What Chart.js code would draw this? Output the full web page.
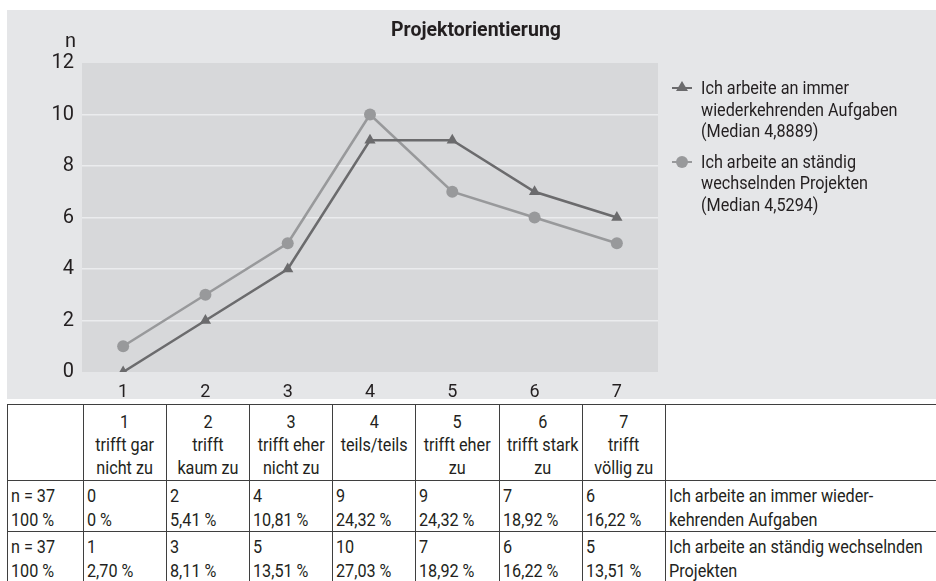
<!DOCTYPE html>
<html>
<head>
<meta charset="utf-8">
<script src="https://cdn.jsdelivr.net/npm/chart.js@4.4.1/dist/chart.umd.min.js"></script>
<style>
  html, body { margin: 0; padding: 0; background: #ffffff; }
  body { width: 936px; height: 581px; position: relative; overflow: hidden;
         font-family: "Roboto", "Liberation Sans", sans-serif; color: #231f20; }
  #panel { position: absolute; left: 7px; top: 10px; width: 929px; height: 389px; background: #e5e6e8; }
  #wrap { position: absolute; left: 0; top: 0; width: 929px; height: 389px; }
  #title { position: absolute; left: 0; width: 952px; top: 18px; text-align: center; font-weight: bold; font-size: 19.5px; }
  #nlabel { position: absolute; left: 58px; top: 18px; font-size: 20px; }
  #legend { position: absolute; left: 665px; top: 67px; font-size: 18px; line-height: 21.5px; }
  .li { position: relative; padding-left: 29px; margin-bottom: 9px; }
  .li .txt { display: inline-block; transform: scaleX(0.9); transform-origin: left center; white-space: nowrap; }
  .sym { position: absolute; left: 0; top: 10px; width: 20px; height: 2px; }
  .tri { position: absolute; left: 4px; top: -6px; width: 0; height: 0;
         border-left: 6px solid transparent; border-right: 6px solid transparent; border-bottom: 10px solid #6b6b6d; }
  .dot { position: absolute; left: 4px; top: -5px; width: 12px; height: 12px; border-radius: 50%; background: #98999b; }
  table { position: absolute; left: 7px; top: 404px; width: 929px; border-collapse: collapse; font-size: 18px; table-layout: fixed; }
  td { border: 1.3px solid #3f3f3f; padding: 0 3px; vertical-align: top; white-space: nowrap; overflow: hidden; }
  td .s { display: inline-block; transform: scaleX(0.9); white-space: nowrap; }
  tr.h { height: 76px; }
  tr.h td { text-align: center; padding-top: 5px; line-height: 23px; }
  tr.h td .s { transform-origin: center top; }
  tr.d { height: 48px; }
  tr.d td { line-height: 23.5px; padding-top: 3px; }
  tr.d td .s { transform-origin: left top; }
  tr td:last-child { border-right: none; }
</style>
</head>
<body>
<div id="panel">
  <div id="wrap"><canvas id="c" width="929" height="389"></canvas></div>
  <div id="nlabel">n</div>
  <div id="legend"></div>
</div>
<div id="title">Projektorientierung</div>
<table id="tbl"></table>
<script>
const categories = ["1", "2", "3", "4", "5", "6", "7"];
const categoryLabels = [["trifft gar", "nicht zu"], ["trifft", "kaum zu"], ["trifft eher", "nicht zu"], ["teils/teils"], ["trifft eher", "zu"], ["trifft stark", "zu"], ["trifft", "völlig zu"]];
const seriesNames = ["Ich arbeite an immer wiederkehrenden Aufgaben", "Ich arbeite an ständig wechselnden Projekten"];
const legendLines = [["Ich arbeite an immer", "wiederkehrenden Aufgaben", "(Median 4,8889)"], ["Ich arbeite an ständig", "wechselnden Projekten", "(Median 4,5294)"]];
const tableRowNames = [["Ich arbeite an immer wieder-", "kehrenden Aufgaben"], ["Ich arbeite an ständig wechselnden", "Projekten"]];
const recurringTasks = [0, 2, 4, 9, 9, 7, 6];
const changingProjects = [1, 3, 5, 10, 7, 6, 5];
const recurringPct = ["0 %", "5,41 %", "10,81 %", "24,32 %", "24,32 %", "18,92 %", "16,22 %"];
const changingPct = ["2,70 %", "8,11 %", "13,51 %", "27,03 %", "18,92 %", "16,22 %", "13,51 %"];
const totalN = "n = 37";
const totalPct = "100 %";
const yTicks = [0, 2, 4, 6, 8, 10, 12];

const colDark = "#6b6b6d";
const colLight = "#98999b";

// legend (HTML)
const lg = document.getElementById("legend");
legendLines.forEach((lines, i) => {
  const d = document.createElement("div");
  d.className = "li";
  const s = document.createElement("div");
  s.className = "sym";
  s.style.background = i === 0 ? colDark : colLight;
  const m = document.createElement("div");
  m.className = i === 0 ? "tri" : "dot";
  s.appendChild(m);
  d.appendChild(s);
  d.insertAdjacentHTML("beforeend", `<span class="txt">${lines.join("<br>")}</span>`);
  lg.appendChild(d);
});

// table
const tbl = document.getElementById("tbl");
const widths = [76, 83, 83, 83, 83, 84, 83, 83, 271];
const sp = t => `<span class="s">${t}</span>`;
let html = "<colgroup>" + widths.map(w => `<col style="width:${w}px">`).join("") + "</colgroup>";
html += "<tr class='h'><td></td>" + categories.map((c, i) => `<td>${sp([c].concat(categoryLabels[i]).join("<br>"))}</td>`).join("") + "<td></td></tr>";
const rows = [[recurringTasks, recurringPct], [changingProjects, changingPct]];
rows.forEach((r, k) => {
  html += `<tr class='d'><td>${sp(totalN + "<br>" + totalPct)}</td>` + r[0].map((v, i) => `<td>${sp(v + "<br>" + r[1][i])}</td>`).join("") + `<td>${sp(tableRowNames[k].join("<br>"))}</td></tr>`;
});
tbl.innerHTML = html;

const plotBg = {
  id: "plotBg",
  beforeDraw(chart) {
    const a = chart.chartArea, ctx = chart.ctx;
    ctx.save();
    ctx.fillStyle = "#d7d8da";
    ctx.fillRect(a.left, a.top, a.right - a.left, a.bottom - a.top);
    ctx.restore();
  }
};

new Chart(document.getElementById("c"), {
  type: "line",
  data: {
    labels: categories,
    datasets: [
      { label: seriesNames[0], data: recurringTasks, borderColor: colDark, backgroundColor: colDark,
        borderWidth: 2.5, pointStyle: "triangle", pointRadius: 6.5, pointHoverRadius: 6.5, pointBorderWidth: 0, tension: 0 },
      { label: seriesNames[1], data: changingProjects, borderColor: colLight, backgroundColor: colLight,
        borderWidth: 2.5, pointStyle: "circle", pointRadius: 6, pointHoverRadius: 6, pointBorderWidth: 0, tension: 0 }
    ]
  },
  options: {
    responsive: false,
    animation: false,
    layout: { padding: { top: 53, right: 278, left: 0, bottom: 0 } },
    plugins: { legend: { display: false }, title: { display: false }, tooltip: { enabled: false } },
    scales: {
      x: {
        offset: true,
        grid: { display: false },
        border: { display: false },
        ticks: { color: "#231f20", font: { family: "Roboto, sans-serif", size: 18 }, padding: 2 },
        afterFit(s) { s.height = 27; }
      },
      y: {
        min: 0, max: 12,
        afterBuildTicks(s) { s.ticks = yTicks.map(v => ({ value: v })); },
        grid: { drawTicks: false, lineWidth: 1.5,
                color: c => (c.tick && (c.tick.value === 0 || c.tick.value === 12)) ? "rgba(0,0,0,0)" : "#ebecee" },
        border: { display: false },
        ticks: { color: "#231f20", font: { family: "Roboto, sans-serif", size: 20 }, padding: 8 },
        afterFit(s) { s.width = 75; }
      }
    }
  },
  plugins: [plotBg]
});
</script>
</body>
</html>
